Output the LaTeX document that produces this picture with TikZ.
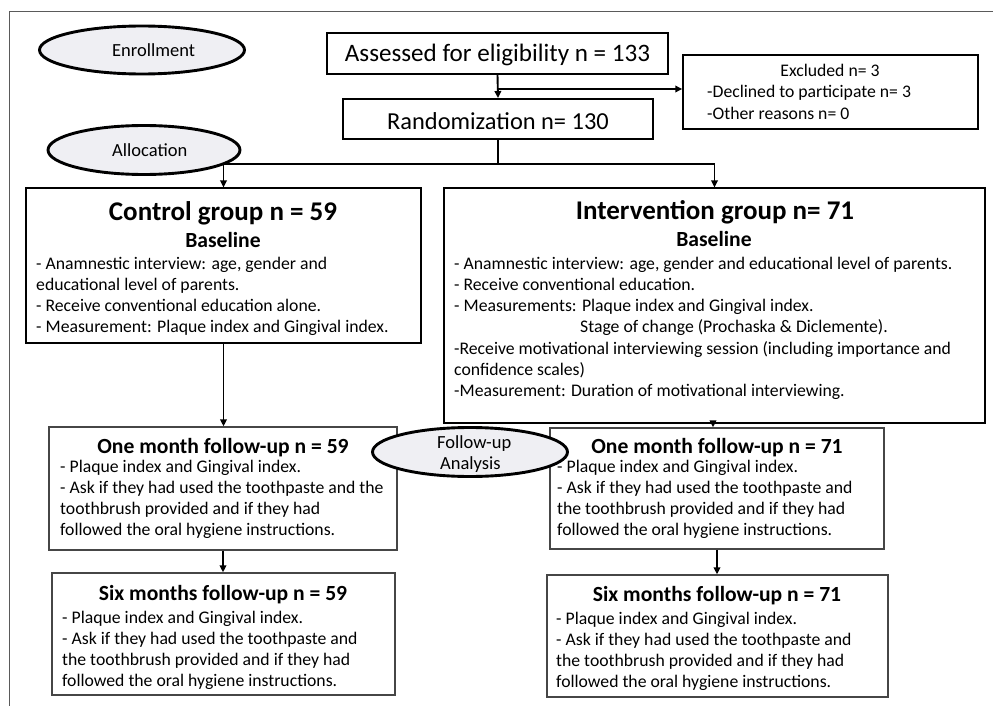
\documentclass[tikz,border=0pt]{standalone}
\usepackage{fontspec}
\setmainfont{Carlito}
\usetikzlibrary{shapes.geometric,arrows.meta}
\definecolor{ovalfill}{RGB}{239,239,243}
\definecolor{framegray}{RGB}{90,90,90}
\definecolor{boxgray}{RGB}{70,70,70}
\begin{document}
\begin{tikzpicture}[x=1pt,y=-1pt,
  grpbox/.style={draw=black, line width=1.1pt, inner sep=0pt, rectangle},
  fupbox/.style={draw=boxgray, line width=1.3pt, inner sep=0pt, rectangle},
  bigbox/.style={draw=black, line width=1.9pt, inner xsep=0pt, inner ysep=0pt, rectangle},
  exbox/.style={draw=black, line width=1.5pt, inner sep=0pt, rectangle},
  oval/.style={ellipse, draw=black, line width=2.9pt, fill=ovalfill, inner sep=0pt},
  ovaltext/.style={font=\fontsize{18.5}{21}\selectfont, inner sep=0pt, anchor=base west},
  body/.style={font=\fontsize{17.7}{21.3}\selectfont, inner sep=0pt, anchor=base west},
  bodyc/.style={font=\fontsize{17.7}{21.3}\selectfont, inner sep=0pt, anchor=base},
  ttl/.style={font=\bfseries\fontsize{27}{32}\selectfont, inner sep=0pt, anchor=base},
  sub/.style={font=\bfseries\fontsize{21.6}{26}\selectfont, inner sep=0pt, anchor=base},
  arr/.style={line width=1.9pt, -{Triangle[length=7pt,width=6.5pt]}},
]
\useasboundingbox (0,0) rectangle (993,706);

% open frame
\draw[framegray, line width=0.8pt] (993,11) -- (9,11) -- (9,706);

% top boxes
\node[bigbox, font=\fontsize{25.1}{30}\selectfont, minimum width=341pt, text height=29pt, text depth=12pt] (assess) at (497.5,53.5)
  {Assessed for eligibility n = 133};
\node[bigbox, font=\fontsize{24.4}{29}\selectfont, minimum width=310pt, text height=31pt, text depth=9pt] (rand) at (498,119)
  {Randomization n= 130};
\node[exbox, minimum width=295pt, minimum height=74pt] (excl) at (830.5,92) {};

% group boxes
\node[grpbox, minimum width=395pt, minimum height=155pt] (ctrl) at (223.5,265.5) {};
\node[grpbox, minimum width=541pt, minimum height=235pt] (intv) at (714.5,305.5) {};

% follow-up boxes
\node[fupbox, minimum width=348pt, minimum height=123pt] (omL) at (223,488.5) {};
\node[fupbox, minimum width=343pt, minimum height=122pt] (sixL) at (223.5,634) {};
\node[fupbox, minimum width=334pt, minimum height=121pt] (omR) at (717,488.5) {};
\node[fupbox, minimum width=341pt, minimum height=122pt] (sixR) at (717.5,636) {};

% connectors
\coordinate (exj) at (497,89);
\draw[arr] (assess.south) -- (rand.north);
\draw[arr] (exj) -- (excl.west |- exj);
\draw[arr] (rand.south) -- ++(0,24) -| (ctrl.north);
\draw[arr] (rand.south) -- ++(0,24) -| (intv.north);
\draw[arr] (ctrl.south) -- (ctrl.south |- omL.north);
\draw[arr] (omL.south) -- (omL.south |- sixL.north);
\coordinate (ij) at ([xshift=-1.5pt]intv.south);
\draw[arr] (ij) -- (ij |- omR.north);
\draw[arr] (omR.south) -- (omR.south |- sixR.north);

% ellipses
\node[oval, minimum width=205pt, minimum height=48pt] (enr) at (142,50) {};
\node[oval, minimum width=192pt, minimum height=49pt] (alloc) at (144,150) {};
\node[oval, minimum width=195pt, minimum height=49pt] (fup) at (470,452) {};

\node[ovaltext] (enrT) at (112,57) {Enrollment};
\node[ovaltext] (allocT) at (112,157) {Allocation};
\node[ovaltext] (fupT1) at (437,448) {Follow-up};
\node[ovaltext] (fupT2) at (440,469) {Analysis};

% excluded text
\node[bodyc] (ex1) at (830,77) {Excluded n= 3};
\node[body] (ex2) at (707,98) {-Declined to participate n= 3};
\node[body] (ex3) at (707,119.5) {-Other reasons n= 0};

% control group text
\node[ttl] (ctrlT) at (223,220) {Control group n = 59};
\node[sub] (ctrlS) at (223,247) {Baseline};
\node[body] (c1) at (36,269) {- Anamnestic interview: age, gender and};
\node[body] (c2) at (36,290.3) {educational level of parents.};
\node[body] (c3) at (36,311.6) {- Receive conventional education alone.};
\node[body] (c4) at (36,332.9) {- Measurement: Plaque index and Gingival index.};

% intervention group text
\node[ttl] (intvT) at (715,219) {Intervention group n= 71};
\node[sub] (intvS) at (714,246) {Baseline};
\node[body] (i1) at (454,269) {- Anamnestic interview: age, gender and educational level of parents.};
\node[body] (i2) at (454,290.3) {- Receive conventional education.};
\node[body] (i3) at (454,311.6) {- Measurements: Plaque index and Gingival index.};
\node[body] (i4) at (580,332.9) {Stage of change (Prochaska \& Diclemente).};
\node[body] (i5) at (454,354.2) {-Receive motivational interviewing session (including importance and};
\node[body] (i6) at (454,375.5) {confidence scales)};
\node[body] (i7) at (454,396.8) {-Measurement: Duration of motivational interviewing.};

% one month left
\node[sub] (omLT) at (223,453.5) {One month follow-up n = 59};
\node[body] (oL1) at (60,472) {- Plaque index and Gingival index.};
\node[body] (oL2) at (60,493.1) {- Ask if they had used the toothpaste and the};
\node[body] (oL3) at (60,514.2) {toothbrush provided and if they had};
\node[body] (oL4) at (60,535.3) {followed the oral hygiene instructions.};

% six months left
\node[sub] (sixLT) at (223,600) {Six months follow-up n = 59};
\node[body] (sL1) at (62,623) {- Plaque index and Gingival index.};
\node[body] (sL2) at (62,644.3) {- Ask if they had used the toothpaste and};
\node[body] (sL3) at (62,665.6) {the toothbrush provided and if they had};
\node[body] (sL4) at (62,686.9) {followed the oral hygiene instructions.};

% one month right
\node[sub] (omRT) at (717,453.5) {One month follow-up n = 71};
\node[body] (oR1) at (557,472) {- Plaque index and Gingival index.};
\node[body] (oR2) at (557,493.1) {- Ask if they had used the toothpaste and};
\node[body] (oR3) at (557,514.2) {the toothbrush provided and if they had};
\node[body] (oR4) at (557,535.3) {followed the oral hygiene instructions.};

% six months right
\node[sub] (sixRT) at (717,601) {Six months follow-up n = 71};
\node[body] (sR1) at (556,624) {- Plaque index and Gingival index.};
\node[body] (sR2) at (556,645.3) {- Ask if they had used the toothpaste and};
\node[body] (sR3) at (556,666.6) {the toothbrush provided and if they had};
\node[body] (sR4) at (556,687.9) {followed the oral hygiene instructions.};
\end{tikzpicture}
\end{document}
